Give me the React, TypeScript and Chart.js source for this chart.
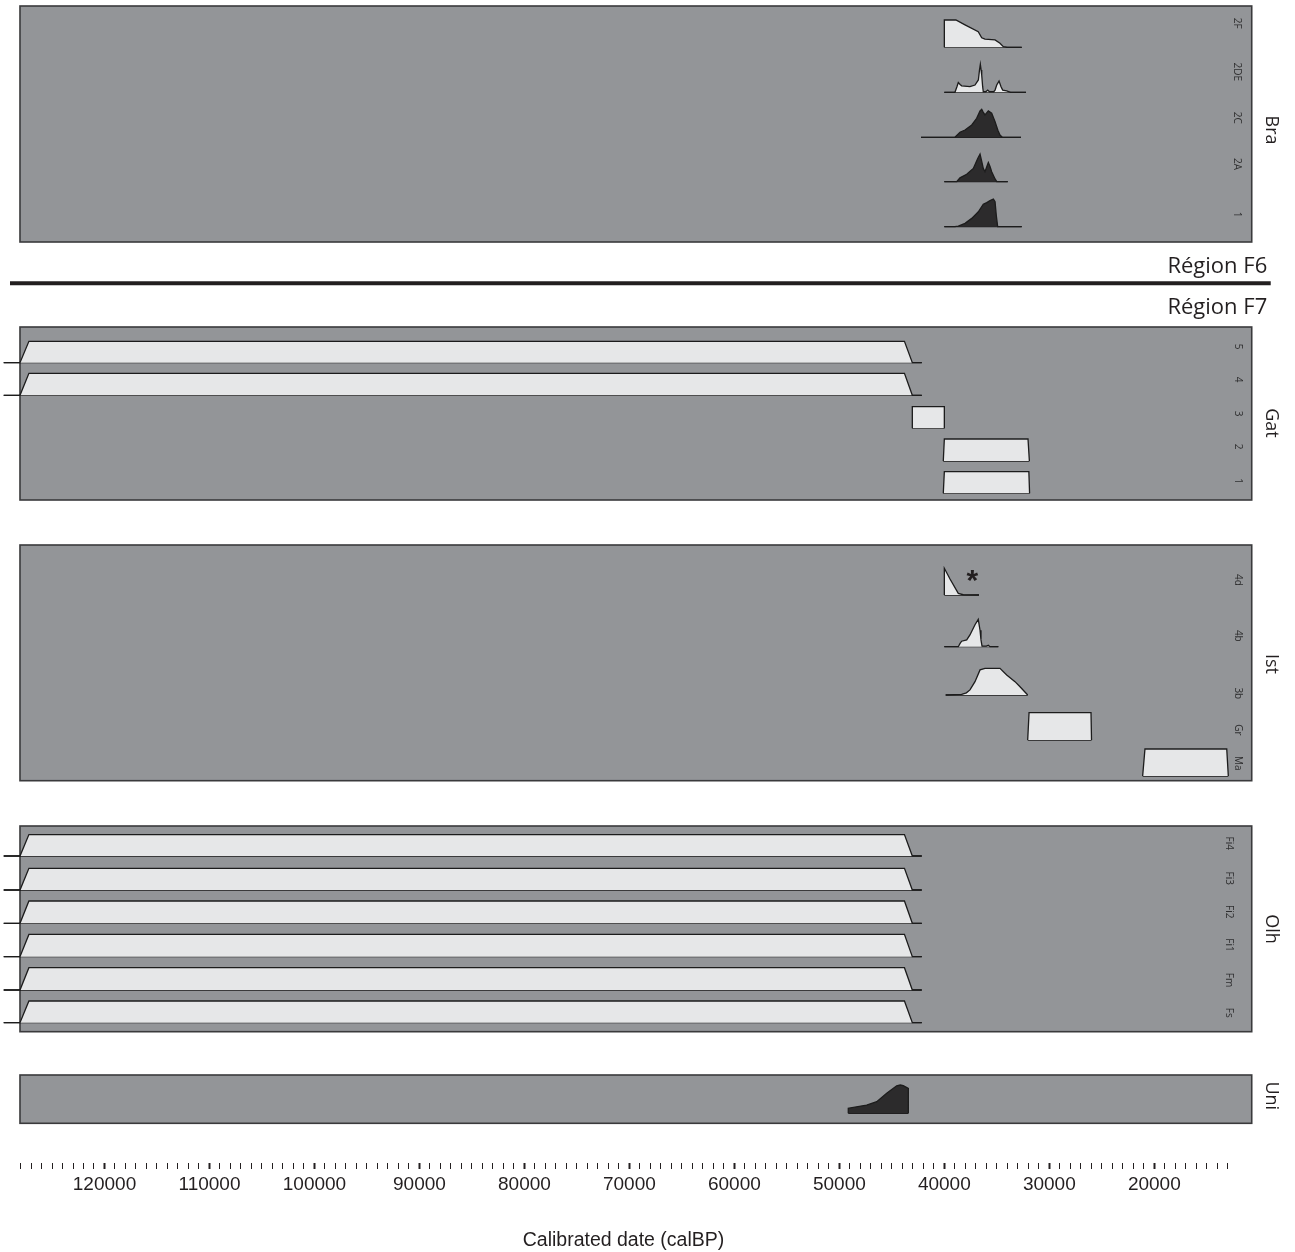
import React, { useEffect, useRef } from 'react';
import { Chart, registerables } from 'chart.js';

Chart.register(...registerables);

// ---------------- data (calBP date, relative density 0..1) ----------------
const MAJOR_TICK_LABELS = [120000, 110000, 100000, 90000, 80000, 70000, 60000, 50000, 40000, 30000, 20000];
const TICK_FIRST = 128000;
const TICK_LAST = 13000;
const TICK_STEP = 1000;

// Bra
const BRA_2F: [number, number][] = [[40000, 0], [40000, 1], [38900, 1], [38030, 0.82], [36770, 0.57], [36440, 0.35], [36130, 0.3], [35170, 0.27], [34700, 0.15], [34380, 0.02], [34000, 0], [32630, 0]];
const BRA_2DE: [number, number][] = [[40000, 0], [38990, 0], [38800, 0.2], [38670, 0.35], [38500, 0.28], [38350, 0.23], [37560, 0.2], [37080, 0.26], [36760, 0.44], [36650, 0.8], [36570, 1], [36500, 0.8], [36440, 0.62], [36350, 0.2], [36290, 0.02], [36050, 0.02], [35870, 0.08], [35700, 0.02], [35300, 0.02], [35170, 0.08], [35010, 0.26], [34790, 0.4], [34600, 0.2], [34440, 0.08], [34060, 0.05], [33700, 0], [32220, 0]];
const BRA_2C: [number, number][] = [[42220, 0], [38990, 0], [38510, 0.18], [38030, 0.26], [37390, 0.44], [36920, 0.68], [36600, 0.94], [36440, 1], [36300, 0.9], [36130, 0.8], [35950, 0.88], [35810, 0.94], [35490, 0.86], [35170, 0.56], [34900, 0.25], [34700, 0.08], [34480, 0], [32700, 0]];
const BRA_2A: [number, number][] = [[40000, 0], [38820, 0], [38510, 0.14], [37870, 0.27], [37240, 0.48], [36820, 0.84], [36600, 1], [36450, 0.75], [36290, 0.48], [36130, 0.36], [35950, 0.55], [35810, 0.69], [35650, 0.55], [35490, 0.36], [35170, 0.1], [35010, 0], [33960, 0]];
const BRA_1: [number, number][] = [[40000, 0], [39000, 0], [38670, 0.02], [38030, 0.12], [37390, 0.3], [36760, 0.54], [36290, 0.81], [35960, 0.87], [35650, 0.94], [35330, 1], [35170, 0.9], [35050, 0.4], [34920, 0], [32630, 0]];

// Gat
const GAT_5: [number, number][] = [[129600, 0], [128050, 0], [127200, 1], [43800, 1], [43050, 0], [42150, 0]];
const GAT_4: [number, number][] = [[129600, 0], [128050, 0], [127200, 1], [43800, 1], [43050, 0], [42150, 0]];
const GAT_3: [number, number][] = [[43050, 0], [43050, 1], [40000, 1], [40000, 0]];
const GAT_2: [number, number][] = [[40100, 0], [40000, 1], [32030, 1], [31900, 0]];
const GAT_1: [number, number][] = [[40100, 0], [40000, 1], [31950, 1], [31880, 0]];

// Ist
const IST_4D: [number, number][] = [[40000, 0], [40000, 1], [39460, 0.6], [38670, 0.06], [38200, 0.01], [36700, 0]];
const IST_4B: [number, number][] = [[40000, 0], [38670, 0], [38500, 0.12], [38350, 0.2], [37870, 0.25], [37560, 0.43], [37080, 0.8], [36770, 1], [36600, 0.6], [36510, 0.25], [36410, 0.02], [36000, 0.02], [35810, 0.05], [35650, 0], [34860, 0]];
const IST_3B: [number, number][] = [[39870, 0], [38350, 0.02], [37900, 0.08], [37560, 0.19], [37080, 0.5], [36600, 0.94], [36130, 1], [34700, 1], [34060, 0.75], [33270, 0.5], [32790, 0.31], [32060, 0]];
const IST_GR: [number, number][] = [[32060, 0], [31930, 1], [26030, 1], [25980, 0]];
const IST_MA: [number, number][] = [[21110, 0], [20890, 1], [13100, 1], [12950, 0]];

// Olh
const OLH_FI4: [number, number][] = [[129600, 0], [128050, 0], [127200, 1], [43800, 1], [43050, 0], [42150, 0]];
const OLH_FI3: [number, number][] = [[129600, 0], [128050, 0], [127200, 1], [43800, 1], [43050, 0], [42150, 0]];
const OLH_FI2: [number, number][] = [[129600, 0], [128050, 0], [127200, 1], [43800, 1], [43050, 0], [42150, 0]];
const OLH_FI1: [number, number][] = [[129600, 0], [128050, 0], [127200, 1], [43800, 1], [43050, 0], [42150, 0]];
const OLH_FM: [number, number][] = [[129600, 0], [128050, 0], [127200, 1], [43800, 1], [43050, 0], [42150, 0]];
const OLH_FS: [number, number][] = [[129600, 0], [128050, 0], [127200, 1], [43800, 1], [43050, 0], [42150, 0]];

// Uni
const UNI: [number, number][] = [[49150, 0], [49150, 0.18], [47400, 0.29], [46440, 0.41], [45490, 0.71], [44540, 0.97], [44200, 1], [43910, 0.98], [43430, 0.88], [43430, 0]];

const STAR_DATE = 37340;

// ---------------- layout & style ----------------
const PANEL_BG = '#939598';
const PANEL_BORDER = '#3a3a3c';
const LIGHT = '#e6e7e8';
const DARK = '#2c2b2c';
const INK = '#231f20';
const PANEL_FROM = 128050;
const PANEL_TO = 10720;
const AXIS_HEIGHT = 89;
const Y_TOTAL = 1163;
const X_MAX = 129954;
const X_MIN = 11170;

type Panel = { name: string; top: number; bottom: number; labelY: number; rowLabelDX: number };
const PANELS: Panel[] = [
  { name: 'Bra', top: 6, bottom: 242, labelY: 130, rowLabelDX: 14.5 },
  { name: 'Gat', top: 327, bottom: 500, labelY: 423, rowLabelDX: 13.5 },
  { name: 'Ist', top: 545, bottom: 780.7, labelY: 664, rowLabelDX: 13.5 },
  { name: 'Olh', top: 826, bottom: 1031.7, labelY: 929, rowLabelDX: 22.7 },
  { name: 'Uni', top: 1075, bottom: 1123.3, labelY: 1095.8, rowLabelDX: 14 },
];

type Row = { panel: string; label: string; data: [number, number][]; base: number; h: number; labelY: number; fill: string };
const ROWS: Row[] = [
  { panel: 'Bra', label: '2F', data: BRA_2F, base: 47.3, h: 27.3, labelY: 23.3, fill: LIGHT },
  { panel: 'Bra', label: '2DE', data: BRA_2DE, base: 92.3, h: 28, labelY: 71.7, fill: LIGHT },
  { panel: 'Bra', label: '2C', data: BRA_2C, base: 137.3, h: 28, labelY: 117.8, fill: DARK },
  { panel: 'Bra', label: '2A', data: BRA_2A, base: 181.7, h: 27.7, labelY: 164, fill: DARK },
  { panel: 'Bra', label: '1', data: BRA_1, base: 226.7, h: 27.7, labelY: 214.5, fill: DARK },
  { panel: 'Gat', label: '5', data: GAT_5, base: 362.7, h: 21.4, labelY: 346.7, fill: LIGHT },
  { panel: 'Gat', label: '4', data: GAT_4, base: 395.3, h: 22, labelY: 379.7, fill: LIGHT },
  { panel: 'Gat', label: '3', data: GAT_3, base: 428.3, h: 21.6, labelY: 413.7, fill: LIGHT },
  { panel: 'Gat', label: '2', data: GAT_2, base: 461, h: 22, labelY: 446.7, fill: LIGHT },
  { panel: 'Gat', label: '1', data: GAT_1, base: 493.3, h: 21.6, labelY: 481, fill: LIGHT },
  { panel: 'Ist', label: '4d', data: IST_4D, base: 595, h: 26.7, labelY: 580, fill: LIGHT },
  { panel: 'Ist', label: '4b', data: IST_4B, base: 646.7, h: 27.4, labelY: 635.8, fill: LIGHT },
  { panel: 'Ist', label: '3b', data: IST_3B, base: 695, h: 26.7, labelY: 693.3, fill: LIGHT },
  { panel: 'Ist', label: 'Gr', data: IST_GR, base: 740, h: 27.3, labelY: 730, fill: LIGHT },
  { panel: 'Ist', label: 'Ma', data: IST_MA, base: 776, h: 27, labelY: 763.3, fill: LIGHT },
  { panel: 'Olh', label: 'Fi4', data: OLH_FI4, base: 856, h: 21.4, labelY: 843.3, fill: LIGHT },
  { panel: 'Olh', label: 'Fi3', data: OLH_FI3, base: 890, h: 21.7, labelY: 878.3, fill: LIGHT },
  { panel: 'Olh', label: 'Fi2', data: OLH_FI2, base: 923.3, h: 22.3, labelY: 911.7, fill: LIGHT },
  { panel: 'Olh', label: 'Fi1', data: OLH_FI1, base: 956.7, h: 22.3, labelY: 945, fill: LIGHT },
  { panel: 'Olh', label: 'Fm', data: OLH_FM, base: 990, h: 22.3, labelY: 980, fill: LIGHT },
  { panel: 'Olh', label: 'Fs', data: OLH_FS, base: 1022.7, h: 21.7, labelY: 1012.7, fill: LIGHT },
  { panel: 'Uni', label: '', data: UNI, base: 1113.3, h: 28.3, labelY: 0, fill: DARK },
];

const SEPARATOR_Y = 283.3;
const STAR_Y = 576.2;

const TEXT_FONT = '"Open Sans", "Noto Sans", sans-serif';
const AXIS_FONT = '"Liberation Sans", Arial, sans-serif';

function buildTicks(): number[] {
  const out: number[] = [];
  for (let v = TICK_FIRST; v >= TICK_LAST; v -= TICK_STEP) out.push(v);
  return out;
}

function rotText(ctx: CanvasRenderingContext2D, text: string, x: number, y: number, font: string, color: string) {
  ctx.save();
  ctx.translate(x, y);
  ctx.rotate(Math.PI / 2);
  ctx.font = font;
  ctx.fillStyle = color;
  ctx.textAlign = 'center';
  ctx.textBaseline = 'middle';
  ctx.fillText(text, 0, 0);
  ctx.restore();
}

const decorPlugin = {
  id: 'decor',
  beforeDatasetsDraw(chart: any) {
    const { ctx, scales } = chart;
    const x = scales.x;
    const y = scales.y;
    const l = x.getPixelForValue(PANEL_FROM);
    const r = x.getPixelForValue(PANEL_TO);
    ctx.save();
    for (const p of PANELS) {
      const t = y.getPixelForValue(p.top);
      const b = y.getPixelForValue(p.bottom);
      ctx.fillStyle = PANEL_BG;
      ctx.fillRect(l, t, r - l, b - t);
      ctx.strokeStyle = PANEL_BORDER;
      ctx.lineWidth = 1.6;
      ctx.strokeRect(l, t, r - l, b - t);
    }
    ctx.restore();
  },
  afterDatasetsDraw(chart: any) {
    const { ctx, scales } = chart;
    const x = scales.x;
    const y = scales.y;
    const r = x.getPixelForValue(PANEL_TO);
    ctx.save();
    // panel names
    for (const p of PANELS) {
      rotText(ctx, p.name, r + 19, y.getPixelForValue(p.labelY), `18px ${TEXT_FONT}`, INK);
    }
    // row labels
    for (const row of ROWS) {
      if (!row.label) continue;
      const p = PANELS.find((q) => q.name === row.panel)!;
      rotText(ctx, row.label, r - p.rowLabelDX, y.getPixelForValue(row.labelY), `10px ${TEXT_FONT}`, '#2f2f30');
    }
    // separator and region labels
    const sy = y.getPixelForValue(SEPARATOR_Y);
    ctx.strokeStyle = INK;
    ctx.lineWidth = 4;
    ctx.beginPath();
    ctx.moveTo(10, sy);
    ctx.lineTo(r + 19, sy);
    ctx.stroke();
    ctx.fillStyle = INK;
    ctx.font = `22px ${TEXT_FONT}`;
    ctx.textAlign = 'right';
    ctx.textBaseline = 'alphabetic';
    ctx.fillText('Région F6', r + 15.5, sy - 10);
    ctx.fillText('Région F7', r + 15.5, sy + 31);
    // asterisk
    ctx.font = `700 30px ${AXIS_FONT}`;
    const m = ctx.measureText('*');
    const cx = x.getPixelForValue(STAR_DATE);
    const cy = y.getPixelForValue(STAR_Y);
    ctx.textAlign = 'center';
    ctx.fillText('*', cx, cy + (m.actualBoundingBoxAscent - m.actualBoundingBoxDescent) / 2);
    ctx.restore();
  },
};

export default function App() {
  const canvasRef = useRef<HTMLCanvasElement | null>(null);

  useEffect(() => {
    const canvas = canvasRef.current;
    if (!canvas) return;
    const ticks = buildTicks();
    const datasets: any[] = [];
    for (const row of ROWS) {
      const pts = row.data.map(([d, v]) => ({ x: d, y: row.base - v * row.h }));
      datasets.push({
        label: row.panel + ' ' + row.label,
        data: pts,
        borderColor: '#1c1c1c',
        borderWidth: 1.3,
        backgroundColor: row.fill,
        fill: { value: row.base },
        pointRadius: 0,
        tension: 0,
      });
      datasets.push({
        label: row.panel + ' ' + row.label + ' base',
        data: [
          { x: row.data[0][0], y: row.base },
          { x: row.data[row.data.length - 1][0], y: row.base },
        ],
        borderColor: '#1c1c1c',
        borderWidth: 1.3,
        fill: false,
        pointRadius: 0,
      });
    }

    const chart = new Chart(canvas, {
      type: 'line',
      data: { datasets },
      options: {
        animation: false,
        responsive: false,
        devicePixelRatio: 1,
        events: [],
        layout: { padding: { left: 0, right: 48, top: 0, bottom: 0 } },
        plugins: { legend: { display: false }, tooltip: { enabled: false }, title: { display: false } },
        scales: {
          x: {
            type: 'linear',
            reverse: true,
            min: X_MIN,
            max: X_MAX,
            position: 'bottom',
            afterBuildTicks: (s: any) => {
              s.ticks = ticks.map((v) => ({ value: v }));
            },
            afterFit: (s: any) => {
              s.height = AXIS_HEIGHT;
            },
            ticks: {
              autoSkip: false,
              maxRotation: 0,
              minRotation: 0,
              padding: 4,
              color: INK,
              font: { family: AXIS_FONT, size: 19 },
              callback: (v: any) => (MAJOR_TICK_LABELS.includes(Number(v)) ? String(v) : ''),
            },
            grid: {
              display: true,
              drawOnChartArea: false,
              drawTicks: true,
              tickLength: 6,
              tickWidth: (c: any) => (c.tick && MAJOR_TICK_LABELS.includes(c.tick.value) ? 2 : 1),
              tickColor: INK,
            },
            border: { display: false },
            title: {
              display: true,
              text: 'Calibrated date (calBP)',
              color: INK,
              font: { family: AXIS_FONT, size: 19.5 },
              padding: { top: 0, bottom: 0 },
            },
          },
          y: { type: 'linear', display: false, reverse: true, min: 0, max: Y_TOTAL },
        },
      } as any,
      plugins: [decorPlugin],
    });
    return () => chart.destroy();
  }, []);

  return (
    <div style={{ position: 'fixed', left: 0, top: 0, width: 1295, height: 1252, background: '#fff' }}>
      <canvas ref={canvasRef} width={1295} height={1252} style={{ display: 'block' }} />
    </div>
  );
}
